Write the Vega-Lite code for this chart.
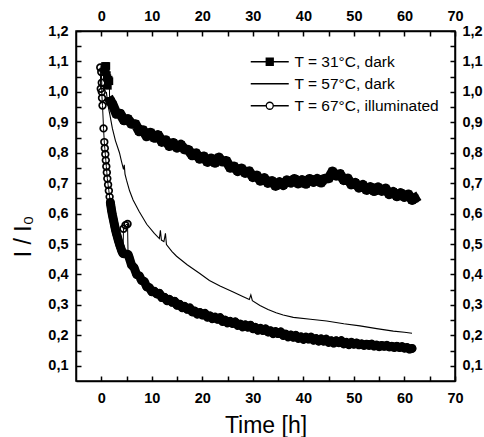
{
  "$schema": "https://vega.github.io/schema/vega-lite/v6.json",
  "width": 379,
  "height": 350,
  "autosize": {"type": "none"},
  "padding": {"left": 76, "top": 31, "right": 29, "bottom": 56},
  "background": "white",
  "datasets": {
    "sq": [
      {"t":0.6,"v":1.075},{"t":0.75,"v":1.085},{"t":0.9,"v":1.065},{"t":1.0,"v":1.085},{"t":1.1,"v":1.055},{"t":1.2,"v":1.045},{"t":1.3,"v":1.02},{"t":1.45,"v":1.04},{"t":1.6,"v":1.035},{"t":1.65,"v":0.97},{"t":1.9,"v":0.968},
      {"t":2.25,"v":0.958},{"t":3.0,"v":0.928},{"t":3.75,"v":0.928},{"t":4.5,"v":0.907},{"t":5.25,"v":0.911},{"t":6.0,"v":0.895},{"t":6.75,"v":0.894},{"t":7.5,"v":0.871},{"t":8.25,"v":0.874},{"t":9.0,"v":0.854},
      {"t":9.75,"v":0.866},{"t":10.5,"v":0.849},{"t":11.25,"v":0.858},{"t":12.0,"v":0.836},{"t":12.75,"v":0.841},{"t":13.5,"v":0.822},{"t":14.25,"v":0.832},{"t":15.0,"v":0.817},{"t":15.75,"v":0.826},{"t":16.5,"v":0.811},
      {"t":17.25,"v":0.809},{"t":18.0,"v":0.792},{"t":18.75,"v":0.798},{"t":19.5,"v":0.78},{"t":20.25,"v":0.788},{"t":21.0,"v":0.77},{"t":21.75,"v":0.781},{"t":22.5,"v":0.767},{"t":23.25,"v":0.784},{"t":24.0,"v":0.771},
      {"t":24.75,"v":0.773},{"t":25.5,"v":0.751},{"t":26.25,"v":0.755},{"t":27.0,"v":0.74},{"t":27.75,"v":0.748},{"t":28.5,"v":0.734},{"t":29.25,"v":0.739},{"t":30.0,"v":0.72},{"t":30.75,"v":0.725},{"t":31.5,"v":0.708},
      {"t":32.25,"v":0.716},{"t":33.0,"v":0.701},{"t":33.75,"v":0.707},{"t":34.5,"v":0.691},{"t":35.25,"v":0.703},{"t":36.0,"v":0.694},{"t":36.75,"v":0.709},{"t":37.5,"v":0.702},{"t":38.25,"v":0.714},{"t":39.0,"v":0.699},
      {"t":39.75,"v":0.71},{"t":40.5,"v":0.698},{"t":41.25,"v":0.714},{"t":42.0,"v":0.704},{"t":42.75,"v":0.714},{"t":43.5,"v":0.702},{"t":44.25,"v":0.715},{"t":45.0,"v":0.716},{"t":45.75,"v":0.738},{"t":46.5,"v":0.725},
      {"t":47.25,"v":0.73},{"t":48.0,"v":0.71},{"t":48.75,"v":0.715},{"t":49.5,"v":0.696},{"t":50.25,"v":0.701},{"t":51.0,"v":0.686},{"t":51.75,"v":0.694},{"t":52.5,"v":0.678},{"t":53.25,"v":0.687},{"t":54.0,"v":0.674},
      {"t":54.75,"v":0.686},{"t":55.5,"v":0.675},{"t":56.25,"v":0.682},{"t":57.0,"v":0.664},{"t":57.75,"v":0.671},{"t":58.5,"v":0.657},{"t":59.25,"v":0.667},{"t":60.0,"v":0.655},{"t":60.75,"v":0.663},{"t":61.5,"v":0.645},{"t":62.0,"v":0.65}
    ],
    "ln": [
      {"t":1.0,"v":1.0},{"t":1.4,"v":0.95},{"t":1.7,"v":0.925},{"t":2.2,"v":0.88},{"t":2.8,"v":0.84},{"t":3.6,"v":0.8},{"t":4.0,"v":0.772},{"t":4.4,"v":0.745},{"t":4.55,"v":0.76},{"t":4.7,"v":0.73},
      {"t":5.0,"v":0.71},{"t":5.6,"v":0.675},{"t":6.3,"v":0.645},{"t":7.5,"v":0.607},{"t":9.0,"v":0.565},{"t":10.5,"v":0.535},{"t":11.5,"v":0.518},{"t":11.7,"v":0.545},{"t":11.9,"v":0.513},{"t":12.4,"v":0.508},
      {"t":12.7,"v":0.535},{"t":12.9,"v":0.498},{"t":14.0,"v":0.475},{"t":14.9,"v":0.46},{"t":17.0,"v":0.432},{"t":19.5,"v":0.403},{"t":21.4,"v":0.38},{"t":23.5,"v":0.362},{"t":26.0,"v":0.343},{"t":28.0,"v":0.328},
      {"t":29.3,"v":0.318},{"t":29.6,"v":0.333},{"t":29.9,"v":0.314},{"t":31.4,"v":0.298},{"t":33.0,"v":0.285},{"t":34.6,"v":0.274},{"t":36.0,"v":0.267},{"t":38.0,"v":0.259},{"t":41.4,"v":0.253},{"t":44.6,"v":0.247},
      {"t":48.0,"v":0.238},{"t":51.2,"v":0.231},{"t":54.5,"v":0.222},{"t":57.8,"v":0.214},{"t":60.0,"v":0.21},{"t":61.5,"v":0.207}
    ],
    "ci": [
      {"t":-0.2,"v":1.08},{"t":0.0,"v":1.065},{"t":0.1,"v":1.03},{"t":-0.1,"v":1.01},{"t":0.1,"v":1.0},{"t":0.15,"v":0.98},{"t":0.25,"v":0.955},{"t":0.45,"v":0.88},{"t":0.6,"v":0.835},{"t":0.7,"v":0.815},
      {"t":0.8,"v":0.795},{"t":0.9,"v":0.775},{"t":1.0,"v":0.755},{"t":1.1,"v":0.735},{"t":1.2,"v":0.715},{"t":1.35,"v":0.695},{"t":1.5,"v":0.675},{"t":1.65,"v":0.655},{"t":1.8,"v":0.637},{"t":1.87,"v":0.628},
      {"t":1.95,"v":0.62},{"t":2.02,"v":0.612},{"t":2.1,"v":0.605},{"t":2.2,"v":0.596},{"t":2.3,"v":0.588},{"t":2.4,"v":0.58},{"t":2.5,"v":0.572},{"t":2.6,"v":0.564},{"t":2.7,"v":0.556},{"t":2.8,"v":0.548},
      {"t":2.9,"v":0.541},{"t":3.02,"v":0.533},{"t":3.15,"v":0.526},{"t":3.28,"v":0.518},{"t":3.4,"v":0.511},{"t":3.52,"v":0.504},{"t":3.65,"v":0.497},{"t":3.78,"v":0.491},{"t":3.9,"v":0.485},{"t":4.02,"v":0.479},
      {"t":4.15,"v":0.474},{"t":4.3,"v":0.469},{"t":4.4,"v":0.55},{"t":4.8,"v":0.562},{"t":5.2,"v":0.566},{"t":5.3,"v":0.466},
      {"t":5.5,"v":0.457},{"t":6.0,"v":0.431},{"t":6.5,"v":0.422},{"t":7.0,"v":0.4},{"t":7.5,"v":0.396},{"t":8.0,"v":0.38},{"t":8.5,"v":0.377},{"t":9.0,"v":0.359},{"t":9.5,"v":0.357},{"t":10.0,"v":0.343},
      {"t":10.5,"v":0.345},{"t":11.0,"v":0.336},{"t":11.5,"v":0.338},{"t":12.0,"v":0.324},{"t":12.5,"v":0.325},{"t":13.0,"v":0.314},{"t":13.5,"v":0.318},{"t":14.0,"v":0.309},{"t":14.5,"v":0.312},{"t":15.0,"v":0.299},
      {"t":15.5,"v":0.302},{"t":16.0,"v":0.291},{"t":16.5,"v":0.295},{"t":17.0,"v":0.286},{"t":17.5,"v":0.29},{"t":18.0,"v":0.277},{"t":18.5,"v":0.28},{"t":19.0,"v":0.27},{"t":19.5,"v":0.275},{"t":20.0,"v":0.267},
      {"t":20.5,"v":0.272},{"t":21.0,"v":0.26},{"t":21.5,"v":0.264},{"t":22.0,"v":0.255},{"t":22.5,"v":0.26},{"t":23.0,"v":0.253},{"t":23.5,"v":0.258},{"t":24.0,"v":0.246},{"t":24.5,"v":0.25},{"t":25.0,"v":0.241},
      {"t":25.5,"v":0.246},{"t":26.0,"v":0.239},{"t":26.5,"v":0.244},{"t":27.0,"v":0.233},{"t":27.5,"v":0.237},{"t":28.0,"v":0.228},{"t":28.5,"v":0.234},{"t":29.0,"v":0.227},{"t":29.5,"v":0.233},{"t":30.0,"v":0.222},
      {"t":30.5,"v":0.226},{"t":31.0,"v":0.217},{"t":31.5,"v":0.223},{"t":32.0,"v":0.216},{"t":32.5,"v":0.221},{"t":33.0,"v":0.211},{"t":33.5,"v":0.215},{"t":34.0,"v":0.206},{"t":34.5,"v":0.212},{"t":35.0,"v":0.206},
      {"t":35.5,"v":0.211},{"t":36.0,"v":0.2},{"t":36.5,"v":0.204},{"t":37.0,"v":0.195},{"t":37.5,"v":0.201},{"t":38.0,"v":0.194},{"t":38.5,"v":0.2},{"t":39.0,"v":0.19},{"t":39.5,"v":0.195},{"t":40.0,"v":0.187},
      {"t":40.5,"v":0.194},{"t":41.0,"v":0.188},{"t":41.5,"v":0.194},{"t":42.0,"v":0.184},{"t":42.5,"v":0.189},{"t":43.0,"v":0.181},{"t":43.5,"v":0.188},{"t":44.0,"v":0.181},{"t":44.5,"v":0.187},{"t":45.0,"v":0.177},
      {"t":45.5,"v":0.182},{"t":46.0,"v":0.175},{"t":46.5,"v":0.182},{"t":47.0,"v":0.176},{"t":47.5,"v":0.182},{"t":48.0,"v":0.172},{"t":48.5,"v":0.177},{"t":49.0,"v":0.17},{"t":49.5,"v":0.177},{"t":50.0,"v":0.171},
      {"t":50.5,"v":0.175},{"t":51.0,"v":0.169},{"t":51.5,"v":0.172},{"t":52.0,"v":0.167},{"t":52.5,"v":0.171},{"t":53.0,"v":0.167},{"t":53.5,"v":0.171},{"t":54.0,"v":0.165},{"t":54.5,"v":0.168},{"t":55.0,"v":0.163},
      {"t":55.5,"v":0.167},{"t":56.0,"v":0.164},{"t":56.5,"v":0.167},{"t":57.0,"v":0.162},{"t":57.5,"v":0.164},{"t":58.0,"v":0.16},{"t":58.5,"v":0.164},{"t":59.0,"v":0.16},{"t":59.5,"v":0.163},{"t":60.0,"v":0.158},
      {"t":60.5,"v":0.16},{"t":61.0,"v":0.155},{"t":61.5,"v":0.157}
    ],
    "leg": [{"s":"T = 31°C, dark"},{"s":"T = 57°C, dark"},{"s":"T = 67°C, illuminated"}]
  },
  "layer": [
    {
      "data": {"name": "sq"},
      "mark": {"type": "line", "color": "black", "strokeWidth": 1},
      "encoding": {
        "x": {"field": "t", "type": "quantitative", "scale": {"domain": [-5, 70], "nice": false, "zero": false}, "axis": null},
        "y": {"field": "v", "type": "quantitative", "scale": {"domain": [0.05, 1.2], "nice": false, "zero": false}, "axis": null}
      }
    },
    {
      "data": {"name": "sq"},
      "transform": [{"filter": "datum.t >= 1.9"}],
      "mark": {"type": "line", "color": "black", "strokeWidth": 10, "strokeJoin": "round", "strokeCap": "square"},
      "encoding": {
        "x": {"field": "t", "type": "quantitative", "scale": {"domain": [-5, 70], "nice": false, "zero": false}, "axis": null},
        "y": {"field": "v", "type": "quantitative", "scale": {"domain": [0.05, 1.2], "nice": false, "zero": false}, "axis": null}
      }
    },
    {
      "data": {"name": "ln"},
      "mark": {"type": "line", "color": "black", "strokeWidth": 1.1},
      "encoding": {
        "x": {"field": "t", "type": "quantitative", "scale": {"domain": [-5, 70], "nice": false, "zero": false},
          "axis": {"orient": "bottom", "title": "Time [h]", "titleFontSize": 23, "titlePadding": 10,
            "values": [0,5,10,15,20,25,30,35,40,45,50,55,60,65,70],
            "labelExpr": "datum.value % 10 === 0 ? datum.label : ''", "labelPadding": 15}},
        "y": {"field": "v", "type": "quantitative", "scale": {"domain": [0.05, 1.2], "nice": false, "zero": false},
          "axis": {"orient": "left", "title": "I / I₀", "titleFontSize": 23, "titleX": -46, "titleY": 205, "titleAngle": 270, "titleAlign": "center", "titleBaseline": "alphabetic",
            "values": [0.1,0.15,0.2,0.25,0.3,0.35,0.4,0.45,0.5,0.55,0.6,0.65,0.7,0.75,0.8,0.85,0.9,0.95,1.0,1.05,1.1,1.15,1.2],
            "labelExpr": "round(datum.value*100) % 10 === 0 ? replace(format(datum.value, '.1f'), '.', ',') : ''", "labelPadding": 13}}
      }
    },
    {
      "data": {"name": "ci"},
      "mark": {"type": "line", "color": "black", "strokeWidth": 1},
      "encoding": {
        "x": {"field": "t", "type": "quantitative", "scale": {"domain": [-5, 70], "nice": false, "zero": false}, "axis": null},
        "y": {"field": "v", "type": "quantitative", "scale": {"domain": [0.05, 1.2], "nice": false, "zero": false}, "axis": null}
      }
    },
    {
      "data": {"name": "ci"},
      "transform": [{"filter": "datum.t >= 1.8 && (datum.t < 4.35 || datum.t > 5.25)"}],
      "mark": {"type": "line", "color": "black", "strokeWidth": 9, "strokeJoin": "round", "strokeCap": "round"},
      "encoding": {
        "x": {"field": "t", "type": "quantitative", "scale": {"domain": [-5, 70], "nice": false, "zero": false}, "axis": null},
        "y": {"field": "v", "type": "quantitative", "scale": {"domain": [0.05, 1.2], "nice": false, "zero": false}, "axis": null}
      }
    },
    {
      "data": {"name": "sq"},
      "mark": {"type": "point", "shape": "square", "filled": true, "color": "black", "size": 60, "opacity": 1},
      "encoding": {
        "x": {"field": "t", "type": "quantitative", "scale": {"domain": [-5, 70], "nice": false, "zero": false}, "axis": null},
        "y": {"field": "v", "type": "quantitative", "scale": {"domain": [0.05, 1.2], "nice": false, "zero": false}, "axis": null}
      }
    },
    {
      "data": {"name": "ci"},
      "mark": {"type": "point", "shape": "circle", "filled": false, "stroke": "black", "strokeWidth": 1.7, "size": 45, "opacity": 1},
      "encoding": {
        "x": {"field": "t", "type": "quantitative", "scale": {"domain": [-5, 70], "nice": false, "zero": false},
          "axis": {"orient": "top", "title": null,
            "values": [0,5,10,15,20,25,30,35,40,45,50,55,60,65,70],
            "labelExpr": "datum.value % 10 === 0 ? datum.label : ''", "labelPadding": 13}},
        "y": {"field": "v", "type": "quantitative", "scale": {"domain": [0.05, 1.2], "nice": false, "zero": false},
          "axis": {"orient": "right", "title": null,
            "values": [0.1,0.15,0.2,0.25,0.3,0.35,0.4,0.45,0.5,0.55,0.6,0.65,0.7,0.75,0.8,0.85,0.9,0.95,1.0,1.05,1.1,1.15,1.2],
            "labelExpr": "round(datum.value*100) % 10 === 0 ? replace(format(datum.value, '.1f'), '.', ',') : ''", "labelPadding": 12}}
      }
    },
    {
      "data": {"name": "leg"},
      "transform": [{"filter": "false"}],
      "mark": {"type": "point", "filled": false, "stroke": "black", "opacity": 1},
      "encoding": {
        "shape": {"field": "s", "type": "nominal",
          "scale": {"domain": ["T = 31°C, dark", "T = 57°C, dark", "T = 67°C, illuminated"],
            "range": ["M-3.8,0H3.8M-0.7,-0.7H0.7V0.7H-0.7ZM-0.7,-0.45H0.7M-0.7,-0.2H0.7M-0.7,0.2H0.7M-0.7,0.45H0.7", "M-3.8,0H3.8", "M-3.8,0H-0.7M0.7,0H3.8M-0.7,0A0.7,0.7,0,1,0,0.7,0A0.7,0.7,0,1,0,-0.7,0Z"]},
          "legend": {"title": null, "orient": "none", "legendX": 186, "legendY": 23, "symbolSize": 100,
            "labelFont": "Liberation Sans", "labelFontSize": 15.5, "labelColor": "black", "labelOffset": 17, "rowPadding": 5, "labelLimit": 0,
            "symbolStrokeColor": "black", "symbolStrokeWidth": 1.3, "symbolOpacity": 1}
        }
      }
    }
  ],
  "resolve": {"axis": {"x": "independent", "y": "independent"}},
  "config": {
    "view": {"stroke": "black", "strokeWidth": 1.5},
    "axis": {"domainColor": "black", "domainWidth": 1.5, "tickColor": "black", "tickWidth": 1.5, "tickSize": -5,
      "labelFont": "Liberation Sans", "labelFontSize": 14.5, "labelFontWeight": "bold", "labelColor": "black",
      "labelOverlap": false, "labelFlush": false, "grid": false,
      "titleFont": "Liberation Sans", "titleColor": "black", "titleFontWeight": "normal"}
  }
}
